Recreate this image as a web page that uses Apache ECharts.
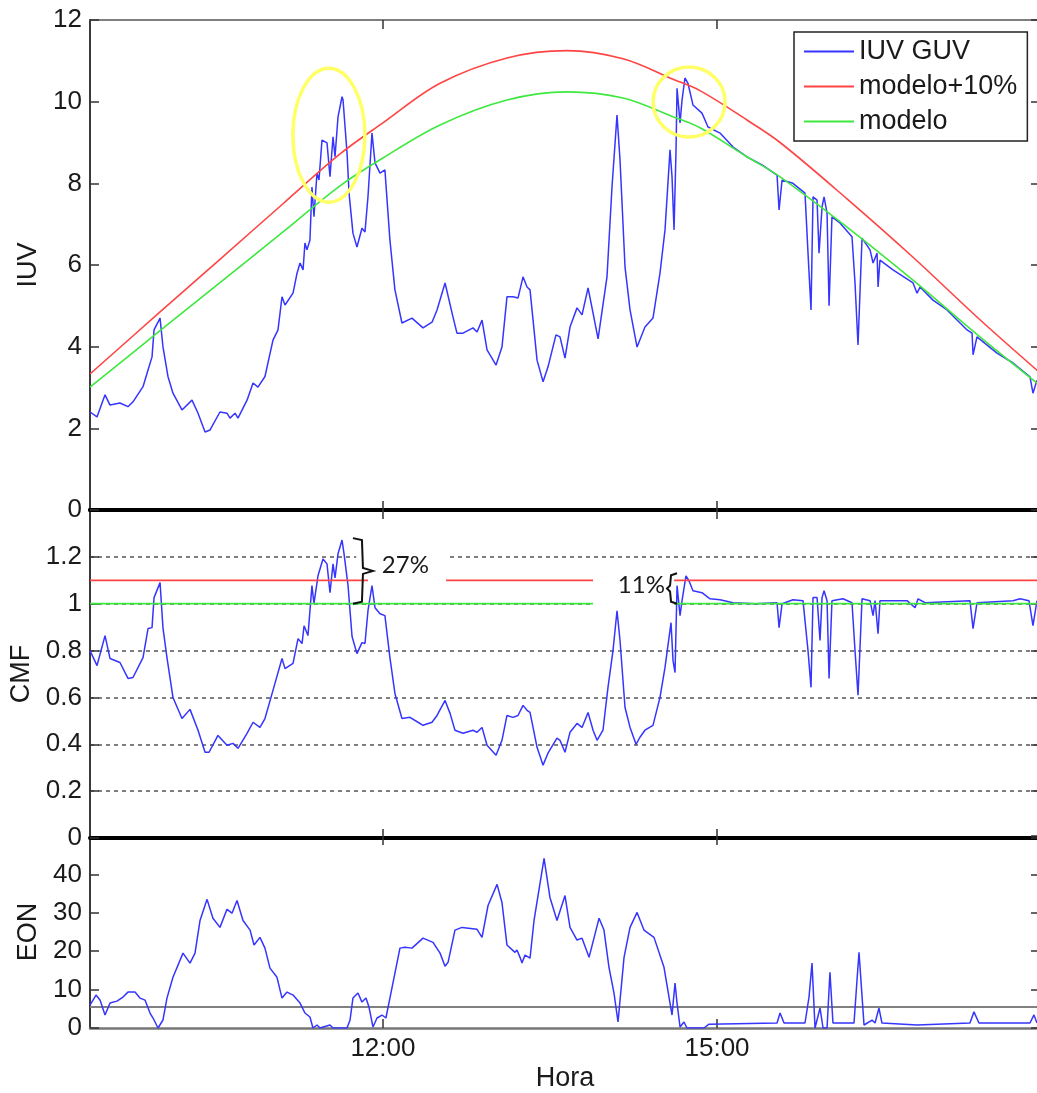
<!DOCTYPE html>
<html lang="es">
<head>
<meta charset="UTF-8">
<script src="https://cdn.jsdelivr.net/npm/echarts@6/dist/echarts.min.js"></script>
<title>IUV / CMF / EON</title>
</head>
<style>
    body {
        margin: 0;
        padding: 0;
        background: #fff;
    }
</style>
<body>
<div id="main" style="width:1037px;height:1093px;"></div>
<script>
// horas en decimal (9.37 = 9:22)
var horaMin = 9.37, horaMax = 17.9;
var horaTicks = [12, 15];

// modelo y modelo+10% [hora, IUV]
var modelo = [[9.370,3.01],[9.999,4.39],[10.537,5.57],[11.103,6.81],[11.615,7.94],[12.000,8.62],[12.513,9.43],[13.114,10.04],[13.653,10.24],[14.156,10.09],[14.605,9.63],[14.847,9.36],[15.269,8.65],[15.566,8.16],[16.167,6.93],[16.760,5.63],[17.361,4.24],[17.900,3.05]];
var modelo10 = [[9.370,3.33],[9.999,4.85],[10.537,6.14],[11.103,7.50],[11.615,8.72],[12.000,9.48],[12.513,10.45],[13.114,11.07],[13.653,11.25],[14.156,11.05],[14.605,10.55],[14.847,10.27],[15.269,9.55],[15.566,9.00],[16.167,7.62],[16.760,6.19],[17.361,4.66],[17.900,3.36]];

// IUV medido por el GUV
var iuvGuv = [[9.370,2.40],[9.433,2.28],[9.505,2.82],[9.550,2.57],[9.639,2.62],[9.711,2.53],[9.756,2.65],[9.846,3.02],[9.891,3.43],[9.927,3.75],[9.945,4.41],[9.999,4.70],[10.025,4.00],[10.070,3.27],[10.115,2.86],[10.196,2.45],[10.286,2.69],[10.340,2.37],[10.403,1.91],[10.448,1.96],[10.537,2.40],[10.600,2.37],[10.627,2.25],[10.672,2.37],[10.699,2.25],[10.780,2.69],[10.834,3.11],[10.878,3.01],[10.941,3.27],[11.013,4.16],[11.058,4.41],[11.094,5.22],[11.121,5.02],[11.193,5.31],[11.229,5.80],[11.256,6.05],[11.283,5.88],[11.300,6.54],[11.318,6.37],[11.345,6.61],[11.363,7.91],[11.381,7.18],[11.408,8.25],[11.426,8.08],[11.453,9.06],[11.498,8.99],[11.525,8.16],[11.552,9.14],[11.570,8.65],[11.597,9.63],[11.633,10.12],[11.642,10.04],[11.678,8.74],[11.696,7.76],[11.731,6.78],[11.767,6.44],[11.812,6.90],[11.839,6.81],[11.866,7.67],[11.902,9.23],[11.929,8.50],[11.974,8.25],[12.018,8.33],[12.063,6.61],[12.108,5.39],[12.171,4.58],[12.261,4.70],[12.360,4.46],[12.441,4.60],[12.486,4.90],[12.558,5.56],[12.629,4.73],[12.665,4.33],[12.719,4.33],[12.809,4.46],[12.845,4.36],[12.890,4.65],[12.935,3.92],[13.016,3.55],[13.069,3.99],[13.114,5.22],[13.168,5.22],[13.213,5.19],[13.258,5.71],[13.294,5.46],[13.321,5.39],[13.384,3.67],[13.438,3.14],[13.482,3.50],[13.554,4.29],[13.590,4.24],[13.635,3.72],[13.680,4.48],[13.743,4.95],[13.788,4.78],[13.842,5.44],[13.887,4.82],[13.932,4.19],[14.012,5.71],[14.057,7.91],[14.102,9.67],[14.129,8.57],[14.174,5.95],[14.219,4.90],[14.282,3.99],[14.353,4.48],[14.425,4.70],[14.488,5.80],[14.533,6.86],[14.578,8.82],[14.596,8.16],[14.614,6.86],[14.632,8.82],[14.641,10.33],[14.668,9.48],[14.686,10.04],[14.712,10.58],[14.739,10.45],[14.784,9.92],[14.865,9.72],[14.919,9.38],[15.027,9.23],[15.144,8.89],[15.269,8.65],[15.404,8.45],[15.539,8.20],[15.557,7.35],[15.584,8.08],[15.682,8.00],[15.790,7.76],[15.817,6.29],[15.844,4.90],[15.862,7.67],[15.898,7.59],[15.916,6.29],[15.943,7.42],[15.961,7.67],[15.988,7.27],[16.006,5.00],[16.032,7.18],[16.104,7.03],[16.212,6.69],[16.239,5.56],[16.266,4.04],[16.302,6.66],[16.374,6.37],[16.401,6.05],[16.437,6.29],[16.446,5.46],[16.463,6.12],[16.580,5.88],[16.760,5.56],[16.796,5.31],[16.823,5.46],[16.939,5.14],[17.065,4.90],[17.245,4.41],[17.290,4.33],[17.299,3.80],[17.334,4.24],[17.514,3.84],[17.658,3.60],[17.810,3.26],[17.837,2.86],[17.873,3.18]];

// CMF
var cmf = [[9.370,0.800],[9.433,0.736],[9.505,0.864],[9.550,0.766],[9.639,0.749],[9.711,0.681],[9.756,0.685],[9.846,0.770],[9.891,0.894],[9.927,0.898],[9.945,1.026],[9.999,1.090],[10.025,0.898],[10.061,0.770],[10.115,0.600],[10.196,0.510],[10.268,0.549],[10.340,0.460],[10.403,0.366],[10.439,0.366],[10.519,0.438],[10.600,0.396],[10.654,0.404],[10.699,0.383],[10.780,0.447],[10.834,0.494],[10.896,0.472],[10.941,0.510],[11.013,0.630],[11.094,0.766],[11.121,0.723],[11.193,0.745],[11.238,0.851],[11.274,0.830],[11.292,0.906],[11.327,0.864],[11.363,1.077],[11.381,1.000],[11.417,1.119],[11.462,1.191],[11.498,1.170],[11.525,1.047],[11.552,1.170],[11.570,1.110],[11.597,1.213],[11.633,1.272],[11.651,1.213],[11.687,1.077],[11.723,0.860],[11.767,0.787],[11.812,0.834],[11.839,0.830],[11.866,0.970],[11.902,1.077],[11.929,0.983],[11.974,0.957],[12.018,0.949],[12.063,0.770],[12.108,0.617],[12.171,0.510],[12.243,0.515],[12.315,0.494],[12.360,0.481],[12.441,0.494],[12.486,0.523],[12.558,0.587],[12.603,0.532],[12.647,0.460],[12.719,0.447],[12.809,0.460],[12.845,0.451],[12.890,0.472],[12.935,0.396],[13.016,0.353],[13.069,0.417],[13.114,0.523],[13.168,0.515],[13.213,0.523],[13.258,0.566],[13.294,0.545],[13.321,0.536],[13.384,0.387],[13.438,0.311],[13.482,0.362],[13.563,0.426],[13.590,0.417],[13.635,0.366],[13.680,0.451],[13.743,0.489],[13.788,0.472],[13.842,0.536],[13.887,0.460],[13.923,0.417],[13.976,0.460],[14.021,0.643],[14.066,0.800],[14.102,0.970],[14.129,0.843],[14.174,0.557],[14.219,0.472],[14.273,0.400],[14.308,0.430],[14.353,0.460],[14.425,0.481],[14.488,0.600],[14.533,0.728],[14.587,0.919],[14.605,0.757],[14.623,0.706],[14.641,1.077],[14.668,0.949],[14.686,1.013],[14.721,1.119],[14.748,1.098],[14.784,1.055],[14.865,1.047],[14.937,1.021],[15.027,1.017],[15.144,1.004],[15.341,1.000],[15.539,1.004],[15.557,0.898],[15.584,1.000],[15.682,1.017],[15.772,1.013],[15.817,0.800],[15.844,0.643],[15.862,1.026],[15.898,1.026],[15.925,0.843],[15.943,1.026],[15.961,1.055],[15.988,1.013],[16.006,0.681],[16.032,1.013],[16.131,1.021],[16.212,1.004],[16.239,0.800],[16.266,0.609],[16.302,1.021],[16.374,1.013],[16.401,0.949],[16.419,1.013],[16.446,0.872],[16.463,1.013],[16.706,1.013],[16.778,0.983],[16.805,1.021],[16.868,1.004],[17.271,1.013],[17.299,0.894],[17.334,1.004],[17.658,1.013],[17.721,1.021],[17.801,1.013],[17.837,0.906],[17.873,1.013]];
var cmfModelo = 1.0, cmfModelo10 = 1.1;

// EON
var eon = [[9.370,5.97],[9.424,8.57],[9.460,7.27],[9.505,3.38],[9.550,6.49],[9.612,7.00],[9.666,8.05],[9.711,9.35],[9.774,9.35],[9.819,7.79],[9.864,7.27],[9.909,3.90],[9.936,2.60],[9.981,0.00],[10.025,2.08],[10.061,7.79],[10.115,13.2],[10.205,19.5],[10.268,16.9],[10.313,19.5],[10.358,28.0],[10.421,33.5],[10.474,28.6],[10.537,26.2],[10.600,30.9],[10.645,29.9],[10.690,33.2],[10.744,28.0],[10.807,25.5],[10.843,21.6],[10.896,23.6],[10.941,20.8],[10.986,15.6],[11.049,13.2],[11.094,7.79],[11.139,9.35],[11.193,8.57],[11.256,6.49],[11.300,3.90],[11.345,2.86],[11.372,0],[11.408,0.78],[11.435,0],[11.525,0.78],[11.552,0],[11.678,0],[11.705,2.08],[11.731,7.79],[11.776,9.10],[11.812,6.75],[11.848,7.79],[11.875,5.45],[11.911,0.26],[11.947,2.60],[11.992,3.38],[12.027,2.60],[12.072,9.10],[12.153,20.8],[12.198,21.0],[12.261,20.8],[12.360,23.4],[12.450,22.3],[12.513,19.5],[12.558,16.1],[12.585,17.1],[12.647,25.5],[12.710,26.2],[12.845,25.7],[12.890,23.6],[12.944,31.9],[13.025,37.4],[13.069,32.7],[13.114,21.6],[13.186,19.7],[13.204,20.3],[13.231,18.4],[13.249,16.9],[13.276,19.0],[13.321,18.2],[13.357,28.0],[13.447,44.2],[13.500,34.0],[13.563,28.0],[13.635,34.5],[13.680,26.2],[13.743,22.9],[13.788,23.4],[13.851,18.4],[13.941,28.6],[13.985,25.5],[14.030,15.8],[14.075,9.1],[14.111,1.56],[14.165,18.4],[14.219,26.2],[14.282,30.1],[14.344,25.5],[14.434,23.6],[14.524,15.8],[14.596,3.38],[14.623,11.7],[14.641,6.49],[14.668,0.26],[14.703,1.56],[14.730,0],[14.883,0],[14.928,1.0],[15.539,1.3],[15.566,3.9],[15.602,1.3],[15.790,1.3],[15.826,8.05],[15.853,16.9],[15.880,0],[15.925,5.2],[15.952,0],[15.988,0],[16.014,14.5],[16.041,1.3],[16.230,1.3],[16.257,12.5],[16.275,19.7],[16.320,0.78],[16.392,2.08],[16.419,1.3],[16.454,5.2],[16.481,1.3],[16.796,0.78],[17.271,1.3],[17.307,4.2],[17.352,1.3],[17.810,1.3],[17.846,3.4],[17.873,1.3]];
var eonUmbral = 5.5;

var fuente = '"Liberation Sans", Arial, sans-serif';
var negro = '#1a1a1a';
var azul = '#3535ff', rojo = '#ff4444', verde = '#3ee83e';

function fmtHora(v) {
    return Math.round(v) + ':00';
}

function ejeX(grid, pos, linea, etiquetas, nombre) {
    return {
        type: 'value', gridIndex: grid, position: pos, min: horaMin, max: horaMax,
        name: nombre || '', nameLocation: 'middle', nameGap: 37,
        nameTextStyle: {fontSize: 27, fontFamily: fuente, color: negro},
        axisLine: linea ? {show: true, onZero: false, lineStyle: linea} : {show: false, onZero: false},
        axisTick: {show: true, inside: true, length: 9, customValues: horaTicks, lineStyle: {color: '#333', width: 1.5}},
        axisLabel: {show: etiquetas, customValues: horaTicks, formatter: fmtHora, fontSize: 26, fontFamily: fuente, color: negro, margin: 8},
        splitLine: {show: false}
    };
}

function ejeY(grid, pos, min, max, paso, nombre, mostrarMax, rejilla) {
    var izq = pos === 'left';
    return {
        type: 'value', gridIndex: grid, position: pos, min: min, max: max, interval: paso,
        name: izq ? nombre : '', nameLocation: 'middle', nameGap: 46, nameRotate: 90,
        nameTextStyle: {fontSize: 27, fontFamily: fuente, color: negro},
        axisLine: {show: true, lineStyle: {color: '#3a3a3a', width: 2}},
        axisTick: {show: true, inside: true, length: 9, lineStyle: {color: '#333', width: 1.5}},
        axisLabel: {show: izq, showMaxLabel: mostrarMax, fontSize: 26, fontFamily: fuente, color: negro, margin: 8},
        splitLine: {show: !!rejilla && izq, lineStyle: {color: '#555', width: 1.5, type: [4, 4]}}
    };
}

function linea(nombre, x, y, datos, color, ancho, suave) {
    return {
        name: nombre, type: 'line', xAxisIndex: x, yAxisIndex: y, data: datos,
        symbol: 'none', smooth: suave || false, silent: true,
        lineStyle: {color: color, width: ancho}, itemStyle: {color: color}
    };
}

var chart = echarts.init(document.getElementById('main'));
var option = {
    animation: false,
    backgroundColor: '#fff',
    grid: [
        {left: 90, top: 20, width: 950, height: 490, outerBoundsMode: 'none'},
        {left: 90, top: 510, width: 950, height: 328, outerBoundsMode: 'none'},
        {left: 90, top: 836, width: 950, height: 192, outerBoundsMode: 'none'}
    ],
    xAxis: [
        ejeX(0, 'bottom', {color: '#000', width: 4}, false),
        ejeX(0, 'top', {color: '#555', width: 1.5}, false),
        ejeX(1, 'bottom', {color: '#000', width: 4}, false),
        ejeX(1, 'top', {color: '#000', width: 4}, false),
        ejeX(2, 'bottom', {color: '#777', width: 2.5}, true, 'Hora'),
        ejeX(2, 'top', null, false)
    ],
    yAxis: [
        ejeY(0, 'left', 0, 12, 2, 'IUV', true, false),
        ejeY(0, 'right', 0, 12, 2, '', true, false),
        ejeY(1, 'left', 0, 1.4, 0.2, 'CMF', false, true),
        ejeY(1, 'right', 0, 1.4, 0.2, '', false, false),
        ejeY(2, 'left', 0, 50, 10, 'EON', false, false),
        ejeY(2, 'right', 0, 50, 10, '', false, false)
    ],
    legend: {
        data: ['IUV GUV', 'modelo+10%', 'modelo'],
        orient: 'vertical', left: 794, top: 32,
        icon: 'rect', itemWidth: 50, itemHeight: 2, itemGap: 8,
        padding: [6, 10, 6, 10],
        borderColor: '#222', borderWidth: 1.5, backgroundColor: '#fff',
        textStyle: {fontSize: 27, fontFamily: fuente, color: negro},
        selectedMode: false
    },
    series: [
        linea('IUV GUV', 0, 0, iuvGuv, azul, 1.5),
        linea('modelo+10%', 0, 0, modelo10, rojo, 1.6, 0.35),
        linea('modelo', 0, 0, modelo, verde, 1.6, 0.35),
        linea('IUV GUV', 2, 2, cmf, azul, 1.5),
        linea('modelo+10%', 2, 2, [[horaMin, cmfModelo10], [horaMax, cmfModelo10]], rojo, 1.8),
        linea('modelo', 2, 2, [[horaMin, cmfModelo], [horaMax, cmfModelo]], verde, 1.8),
        linea('umbral', 4, 4, [[horaMin, eonUmbral], [horaMax, eonUmbral]], '#808080', 2),
        linea('EON', 4, 4, eon, azul, 1.5)
    ]
};
chart.setOption(option);

// anotaciones (en coordenadas de datos)
var elipses = [
    {t: 11.515, v: 9.18, rx: 36, ry: 67},
    {t: 14.749, v: 9.99, rx: 36, ry: 35}
];
function p(panel, t, v) {
    return chart.convertToPixel({xAxisIndex: panel * 2, yAxisIndex: panel * 2}, [t, v]);
}
var g = [];
elipses.forEach(function (e) {
    var c = p(0, e.t, e.v);
    g.push({type: 'ellipse', z: 100, shape: {cx: c[0], cy: c[1], rx: e.rx, ry: e.ry},
        style: {fill: null, stroke: '#ffff66', lineWidth: 3.5}});
});
// cajas blancas bajo los textos
function caja(t0, t1, v0, v1) {
    var a = p(1, t0, v1), b = p(1, t1, v0);
    g.push({type: 'rect', z: 100, shape: {x: a[0], y: a[1], width: b[0] - a[0], height: b[1] - a[1]},
        style: {fill: '#fff'}});
}
caja(11.866, 12.567, 1.09, 1.225);
caja(11.76, 11.866, 1.17, 1.225);
caja(13.887, 14.615, 0.979, 1.157);

// llave "}" 27%
var s = p(1, 11.731, 1.28), b = p(1, 11.731, 1.0), m = p(1, 11.911, 1.14);
g.push({type: 'polyline', z: 101, shape: {points: [[s[0], s[1]], [s[0] + 9, s[1] + 2], [s[0] + 10, m[1] - 3], [m[0], m[1]], [s[0] + 10, m[1] + 3], [s[0] + 9, b[1] - 2], [s[0], b[1]]]},
    style: {stroke: '#111', lineWidth: 2, fill: null}});
var tx = p(1, 11.99, 1.166);
g.push({type: 'text', z: 101, x: tx[0], y: tx[1], style: {text: '27%', font: '24px Lato, "Open Sans", sans-serif', fill: negro, align: 'left', verticalAlign: 'middle'}});

// llave "{" 11%
var s2 = p(1, 14.641, 1.13), b2 = p(1, 14.641, 1.0), m2 = p(1, 14.551, 1.065);
g.push({type: 'polyline', z: 101, shape: {points: [[s2[0], s2[1]], [s2[0] - 6, s2[1] + 2], [s2[0] - 7, m2[1] - 3], [m2[0], m2[1]], [s2[0] - 7, m2[1] + 3], [s2[0] - 6, b2[1] - 2], [s2[0], b2[1]]]},
    style: {stroke: '#111', lineWidth: 2, fill: null}});
var tx2 = p(1, 14.532, 1.077);
g.push({type: 'text', z: 101, x: tx2[0], y: tx2[1], style: {text: '11%', font: '24px Lato, "Open Sans", sans-serif', fill: negro, align: 'right', verticalAlign: 'middle'}});

chart.setOption({graphic: {elements: g}});
</script>
</body>
</html>
